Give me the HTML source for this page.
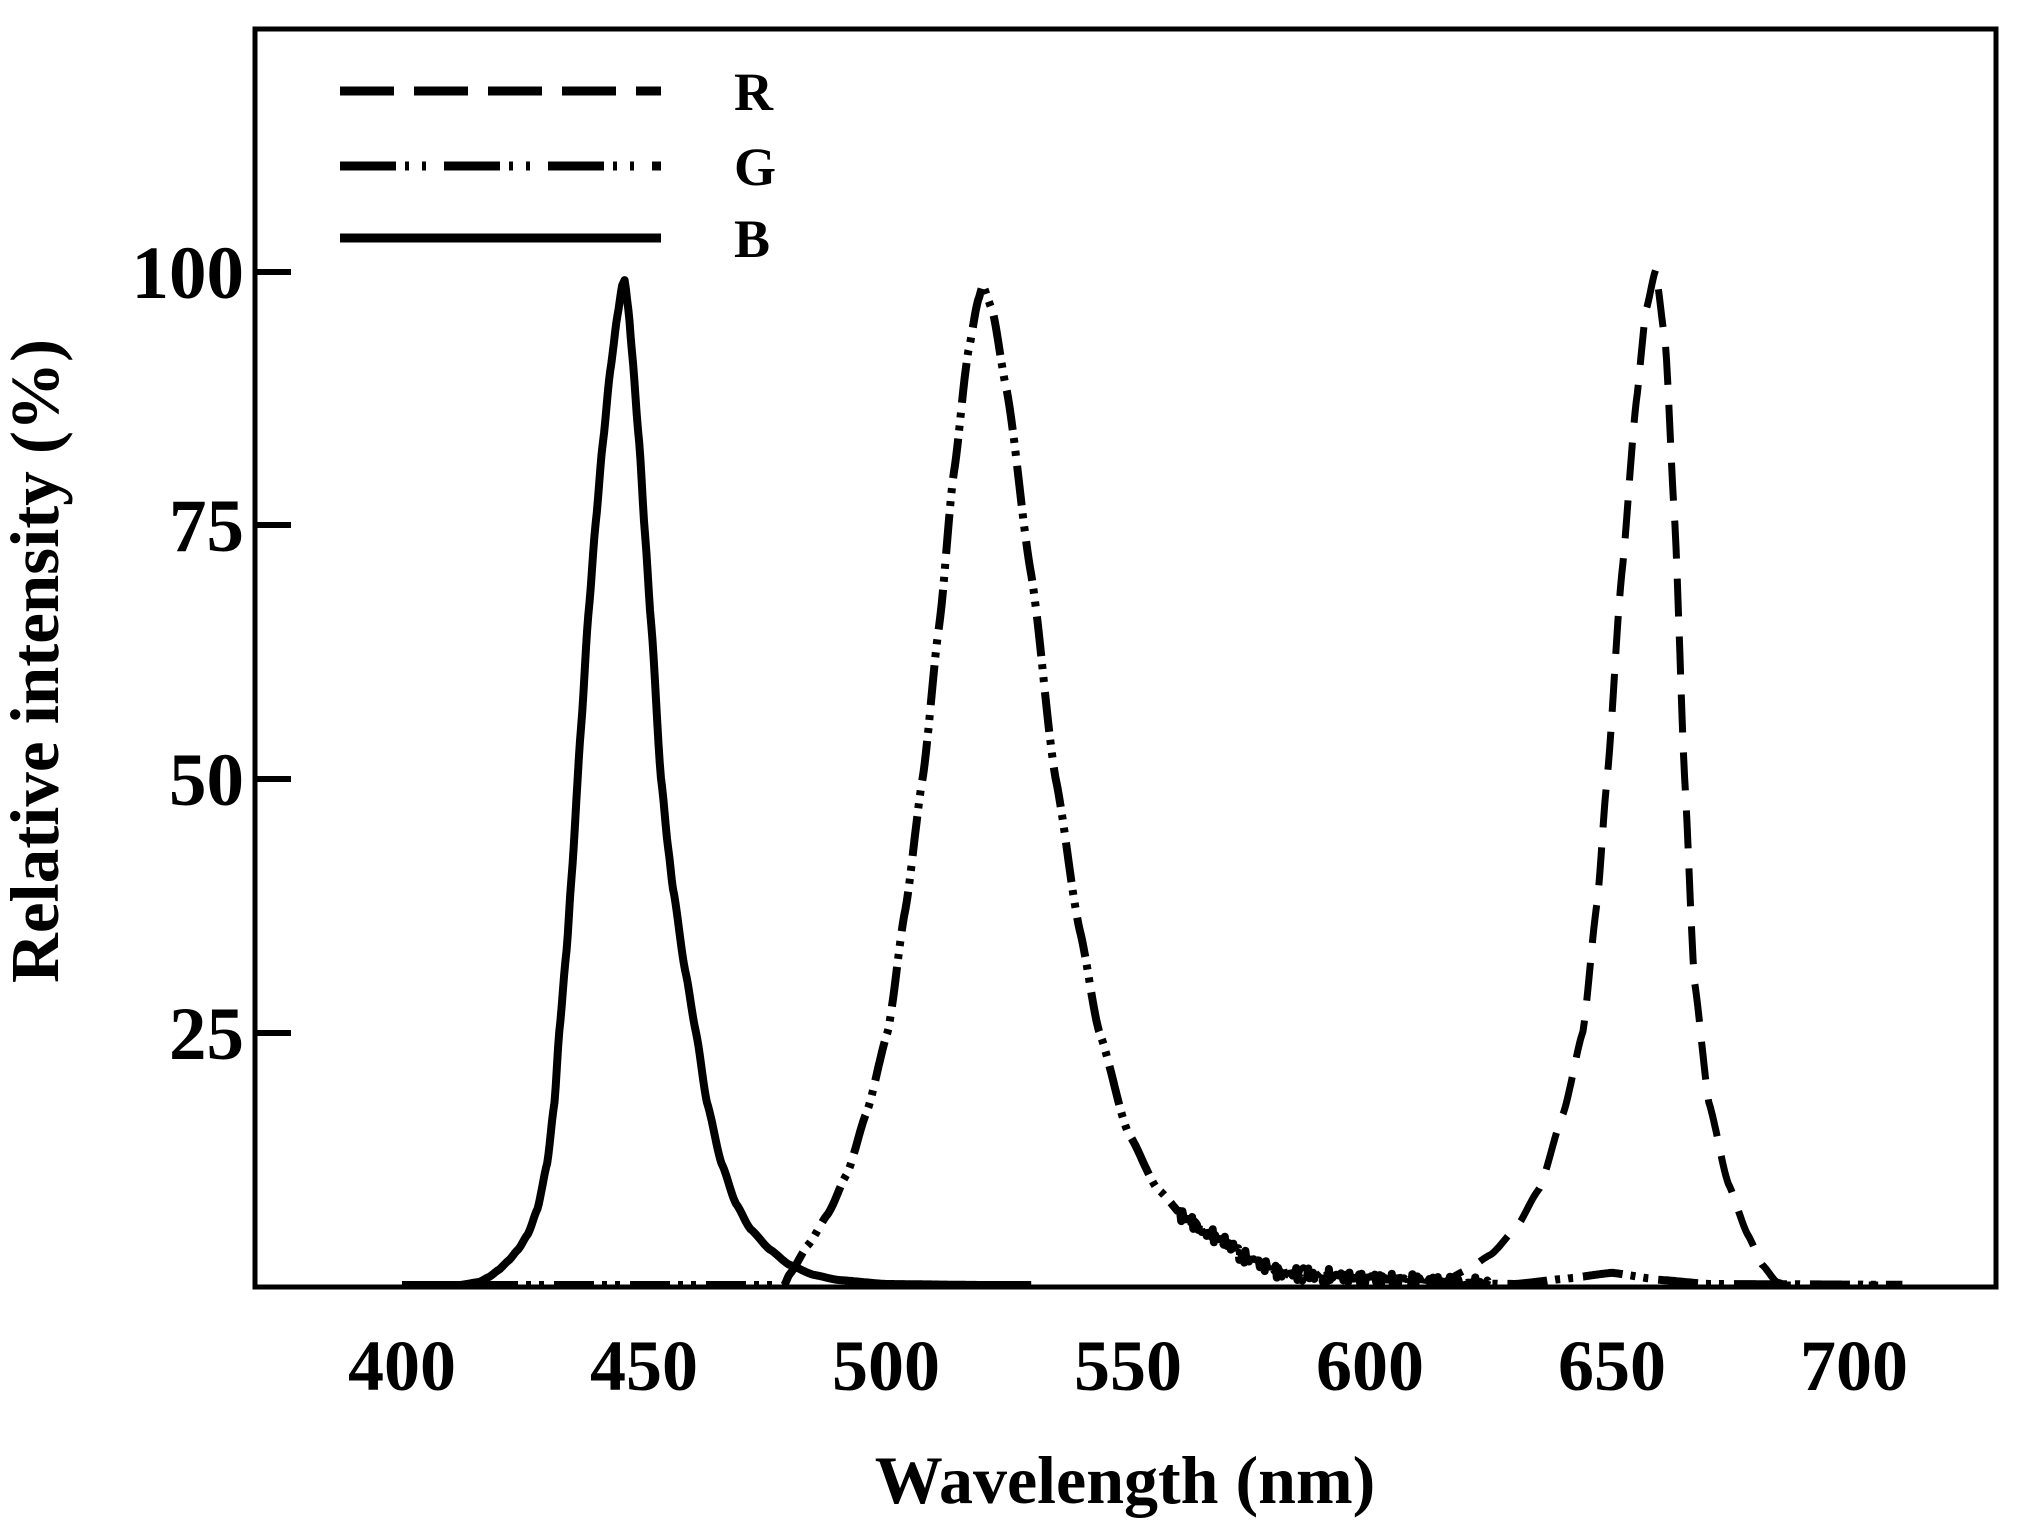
<!DOCTYPE html>
<html><head><meta charset="utf-8"><style>
html,body{margin:0;padding:0;background:#fff;}
svg{display:block;}
text{font-family:"Liberation Serif",serif;font-weight:bold;fill:#000;}
</style></head><body>
<svg id="s" width="2032" height="1538" viewBox="0 0 2032 1538" xmlns="http://www.w3.org/2000/svg">
<rect x="255" y="29" width="1741" height="1258" fill="none" stroke="#000" stroke-width="5"/>
<g stroke="#000" stroke-width="6">
<line x1="255" y1="272" x2="291" y2="272"/>
<line x1="255" y1="525" x2="291" y2="525"/>
<line x1="255" y1="779" x2="291" y2="779"/>
<line x1="255" y1="1033" x2="291" y2="1033"/>
</g>
<g font-size="75" text-anchor="end">
<text x="244" y="298">100</text>
<text x="244" y="551">75</text>
<text x="244" y="805">50</text>
<text x="244" y="1059">25</text>
</g>
<g font-size="72" text-anchor="middle">
<text x="402" y="1390">400</text>
<text x="644" y="1390">450</text>
<text x="886" y="1390">500</text>
<text x="1128" y="1390">550</text>
<text x="1370" y="1390">600</text>
<text x="1612" y="1390">650</text>
<text x="1854" y="1390">700</text>
</g>
<text x="1125" y="1503" font-size="68" text-anchor="middle">Wavelength (nm)</text>
<text transform="translate(58,661) rotate(-90)" font-size="69" text-anchor="middle">Relative intensity (%)</text>
<g stroke="#000" stroke-width="9" fill="none">
<line x1="340" y1="91" x2="661" y2="91" stroke-dasharray="54 20"/>
<line x1="340" y1="166" x2="661" y2="166" stroke-dasharray="56 9 4 13 4 18"/>
<line x1="340" y1="238" x2="661" y2="238"/>
</g>
<g font-size="54">
<text x="734" y="110">R</text>
<text x="734" y="185">G</text>
<text x="734" y="257">B</text>
</g>
<path id="pB" fill="none" stroke="#000" stroke-width="8" stroke-linejoin="round"/>
<path id="pG" fill="none" stroke="#000" stroke-width="8" stroke-dasharray="40 8 5 8 5 10" stroke-linejoin="round"/>
<path id="pR" fill="none" stroke="#000" stroke-width="7" stroke-dasharray="38 20" stroke-linejoin="round"/>
</svg>
<script>
function X(l){return 402+4.84*(l-400);}
function Y(v){return 1285-10.15*v;}
function interp(pts,l){
 if(l<=pts[0][0])return pts[0][1];
 for(var i=1;i<pts.length;i++){if(l<=pts[i][0]){var a=pts[i-1],b=pts[i];var t=(l-a[0])/(b[0]-a[0]);t=t*t*(3-2*t)*0.3+t*0.7;return a[1]+(b[1]-a[1])*t;}}
 return pts[pts.length-1][1];
}
var B=[[400,0],[412,0],[416,0.3],[418,0.8],[420,1.5],[422,2.4],[424,3.5],[426,5],[428,7.5],[430,12],[431.5,18],[432.5,25],[434,33],[435,40],[437,55],[438.5,66],[440,75],[441.5,83],[443,90],[444.5,95.5],[445.5,98.5],[446,99],[446.8,96],[447.5,92],[449,83],[450.2,74],[451.5,65],[453.5,50],[455,43],[456,39],[458.5,31],[460.7,25],[463,18],[466,12],[469,8],[472,5.5],[476,3.5],[480,2],[485,1],[490,0.5],[500,0.1],[520,0],[720,0]];
var G=[[400,0],[479,0],[480,1],[484,4],[488,7],[492,11],[496,17],[500.4,25],[504,37],[507.6,50],[511,65],[514,80],[517,92],[519,97],[520,98.5],[522,96],[525,88],[530,70],[535,50],[540,35],[544,25],[550,15],[556,9.5],[562,6.5],[569,4.5],[575,2.5],[582,1.2],[600,0.6],[616,0.2],[630,0.1],[640,0.6],[650,1.2],[660,0.5],[670,0.1],[720,0]];
var R=[[400,0],[614,0],[620,1.5],[625,3],[630,5.5],[635,9.5],[640,17],[644,25],[647,38],[649,50],[652,70],[655,87],[657,96],[659,100],[661,93],[663,75],[665,50],[667,30],[670,18],[674,10],[678,5],[681,2],[684,0.3],[686,0],[705,0]];
function build(pts,l0,l1,step,noise){
 var d="";
 for(var l=l0;l<=l1;l+=step){
  var v=interp(pts,l);
  if(noise&&l>560&&l<625)v+=(Math.sin(l*7.3)+Math.sin(l*13.1))*0.35;
  if(v<0)v=0;
  d+=(d?"L":"M")+X(l).toFixed(1)+","+Y(v).toFixed(1);
 }
 return d;
}
document.getElementById("pB").setAttribute("d",build(B,400,530,0.25,false));
document.getElementById("pG").setAttribute("d",build(G,400,710,0.25,true));
document.getElementById("pR").setAttribute("d",build(R,612,705,0.25,false));
</script>
</body></html>
